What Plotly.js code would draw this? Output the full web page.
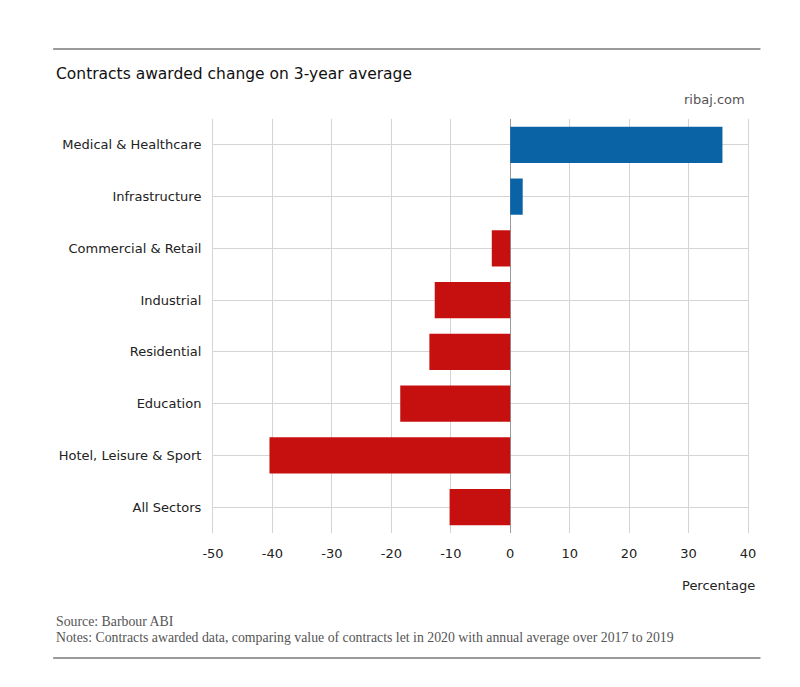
<!DOCTYPE html>
<html>
<head>
<meta charset="utf-8">
<script src="https://cdn.plot.ly/plotly-3.0.1.min.js"></script>
<style>html,body{margin:0;padding:0;background:#fff;}#chart{width:800px;height:687px;}</style>
</head>
<body>
<div id="chart"></div>
<script>
const categories = ["Medical & Healthcare","Infrastructure","Commercial & Retail","Industrial","Residential","Education","Hotel, Leisure & Sport","All Sectors"];
const values = [35.7, 2.1, -3.1, -12.7, -13.6, -18.5, -40.5, -10.2];
const tickValues = [-50,-40,-30,-20,-10,0,10,20,30,40];

const colors = values.map(v => v >= 0 ? "#0a63a5" : "#c5100f");

const trace = {
  type: "bar",
  orientation: "h",
  y: categories,
  x: values,
  marker: {color: colors, line: {width: 0}},
  width: 0.7,
  hoverinfo: "x+y"
};

const sans = "'DejaVu Sans', Roboto, sans-serif";
const serif = "'Liberation Serif', 'DejaVu Serif', serif";

const layout = {
  width: 800, height: 687,
  margin: {l: 213, r: 51.5, t: 119, b: 154, pad: 0},
  paper_bgcolor: "#fff", plot_bgcolor: "#fff",
  showlegend: false,
  font: {family: sans, color: "#222", size: 13},
  xaxis: {
    range: [-50, 40],
    tickvals: tickValues,
    ticktext: tickValues.map(String),
    showgrid: true, gridcolor: "#d4d4d4", gridwidth: 1,
    zeroline: true, zerolinecolor: "#9a9a9a", zerolinewidth: 1,
    showline: false,
    ticks: "outside", ticklen: 8, tickcolor: "rgba(0,0,0,0)",
    tickfont: {family: sans, size: 13, color: "#222"},
    fixedrange: true
  },
  yaxis: {
    autorange: "reversed",
    showgrid: true, gridcolor: "#d4d4d4", gridwidth: 1,
    zeroline: false,
    showline: true, mirror: true, linecolor: "#d4d4d4", linewidth: 1,
    ticks: "outside", ticklen: 8, tickcolor: "rgba(0,0,0,0)",
    tickfont: {family: sans, size: 13, color: "#222"},
    fixedrange: true
  },
  shapes: [
    {type: "line", xref: "paper", yref: "paper", x0: -0.2988, x1: 1.0233, y0: 1.1691, y1: 1.1691, line: {color: "#9a9a9a", width: 2}},
    {type: "line", xref: "paper", yref: "paper", x0: -0.2988, x1: 1.0233, y0: -0.3019, y1: -0.3019, line: {color: "#9a9a9a", width: 2}}
  ],
  annotations: [
    {text: "Contracts awarded change on 3-year average", xref: "paper", yref: "paper", x: -0.2969, y: 1.1087, xanchor: "left", yanchor: "middle", showarrow: false, font: {family: sans, size: 15.5, color: "#111"}},
    {text: "ribaj.com", xref: "paper", yref: "paper", x: 0.9990, y: 1.0459, xanchor: "right", yanchor: "middle", showarrow: false, font: {family: sans, size: 13, color: "#555"}},
    {text: "Percentage", xref: "paper", yref: "paper", x: 1.0159, y: -0.1257, xanchor: "right", yanchor: "middle", showarrow: false, font: {family: sans, size: 13, color: "#222"}},
    {text: "Source: Barbour ABI", xref: "paper", yref: "paper", x: -0.2969, y: -0.2126, xanchor: "left", yanchor: "middle", showarrow: false, font: {family: serif, size: 13.8, color: "#555"}},
    {text: "Notes: Contracts awarded data, comparing value of contracts let in 2020 with annual average over 2017 to 2019", xref: "paper", yref: "paper", x: -0.2969, y: -0.2536, xanchor: "left", yanchor: "middle", showarrow: false, font: {family: serif, size: 13.8, color: "#555"}}
  ]
};

Plotly.newPlot("chart", [trace], layout, {displayModeBar: false, staticPlot: true});
</script>
</body>
</html>
